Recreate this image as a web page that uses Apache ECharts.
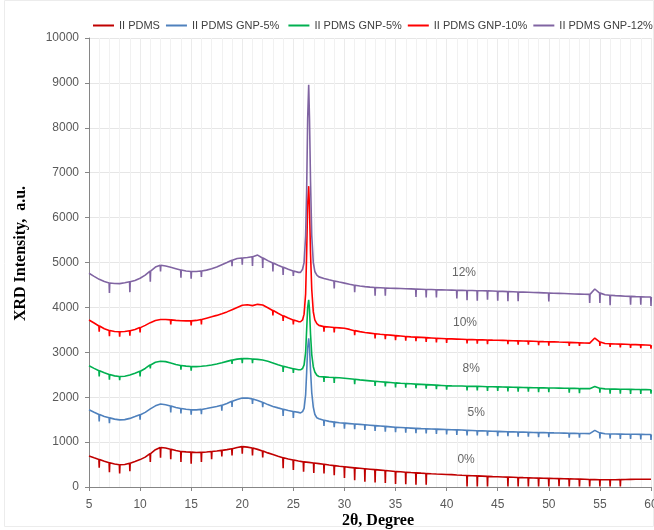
<!DOCTYPE html>
<html><head><meta charset="utf-8">
<script src="https://cdn.jsdelivr.net/npm/echarts@6/dist/echarts.min.js"></script>
<style>html,body{margin:0;padding:0;background:#fff}#c{width:654px;height:530px}</style>
</head><body><div id="c"></div>
<script>
// x grid: 5.0 .. 60.0 step 0.5 (111 values per series)
const X_START = 5, X_STEP = 0.5;
const legendNames = ['II PDMS', 'II PDMS GNP-5% ', 'II PDMS GNP-5%', 'II PDMS GNP-10%', 'II PDMS GNP-12%'];
const colors = ['#C00000', '#4F81BD', '#00B050', '#FF0000', '#8064A2'];

const base0 = [690,650,615,575,540,512,495,500,530,568, 610,665,745,830,880,868,842,812,792,782,
  776,770,772,780,790,802,815,832,852,880, 900,888,868,838,800,760,722,684,650,622,
  600,578,560,548,535,520,505,490,476,462, 450,438,426,416,405,396,386,376,366,356,
  346,338,330,322,315,308,302,296,290,285, 280,275,268,262,257,252,247,242,237,232,
  228,224,220,216,212,208,205,202,198,195, 192,189,186,183,180,178,175,172,168,165,
  162,160,160,162,165,168,170,172,172,172, 174];
const base5 = [1720,1665,1615,1572,1540,1512,1495,1500,1528,1568, 1610,1662,1740,1808,1848,1832,1802,1772,1750,1732,
  1720,1718,1728,1748,1770,1792,1822,1860,1908,1950, 1980,1982,1962,1925,1885,1835,1795,1762,1732,1702,
  1680,1662,1700,3310,1700,1520,1485,1462,1445,1432, 1422,1412,1402,1394,1385,1376,1366,1358,1350,1340,
  1330,1325,1318,1312,1306,1300,1296,1292,1288,1284, 1280,1276,1272,1268,1262,1258,1254,1250,1246,1242,
  1238,1234,1230,1228,1224,1222,1218,1215,1212,1210, 1208,1205,1202,1200,1196,1194,1192,1190,1188,1262,
  1205,1186,1182,1180,1178,1176,1175,1174,1172,1170, 1168];
const base8 = [2700,2642,2590,2545,2505,2475,2460,2468,2495,2535, 2578,2640,2718,2778,2800,2792,2762,2728,2705,2692,
  2682,2680,2688,2700,2718,2740,2768,2798,2826,2848, 2860,2862,2852,2842,2828,2800,2762,2722,2690,2660,
  2632,2612,2650,4170,2600,2462,2452,2445,2440,2432, 2422,2410,2398,2386,2375,2364,2354,2345,2336,2328,
  2318,2310,2304,2298,2292,2286,2280,2274,2268,2262, 2256,2252,2250,2248,2245,2242,2240,2237,2234,2232,
  2230,2227,2224,2222,2219,2216,2214,2212,2210,2208, 2206,2204,2202,2200,2198,2196,2194,2192,2190,2236,
  2198,2186,2182,2180,2178,2176,2174,2172,2170,2168, 2166];
const base10 = [3720,3652,3585,3525,3484,3462,3456,3462,3480,3510, 3550,3600,3660,3708,3730,3730,3722,3712,3702,3700,
  3700,3710,3730,3760,3790,3822,3860,3900,3950,4000, 4048,4060,4040,4068,4052,3992,3930,3870,3812,3762,
  3722,3684,3750,6700,3800,3600,3572,3562,3552,3545, 3535,3510,3482,3460,3442,3428,3414,3402,3392,3382,
  3372,3362,3352,3344,3338,3332,3326,3320,3314,3308, 3302,3298,3294,3290,3286,3283,3280,3277,3274,3271,
  3268,3265,3262,3258,3255,3252,3248,3245,3242,3238, 3235,3232,3228,3225,3220,3216,3212,3208,3204,3318,
  3232,3196,3190,3186,3182,3178,3174,3170,3166,3162, 3158];
const base12 = [4760,4692,4625,4575,4545,4532,4530,4548,4570,4600, 4650,4720,4810,4898,4940,4922,4892,4862,4832,4812,
  4800,4800,4810,4830,4860,4900,4950,5000,5050,5090, 5100,5110,5130,5165,5100,5042,4990,4940,4892,4850,
  4810,4780,4900,8960,4900,4680,4645,4615,4590,4565, 4540,4515,4492,4475,4462,4452,4444,4438,4432,4428,
  4424,4420,4416,4412,4408,4404,4400,4397,4394,4391, 4388,4385,4382,4380,4378,4375,4372,4370,4367,4364,
  4360,4356,4352,4348,4344,4340,4336,4332,4328,4324, 4320,4316,4312,4308,4304,4300,4296,4292,4290,4410,
  4318,4280,4270,4262,4256,4250,4245,4240,4236,4232, 4230];

// main (002) graphite peak near 26.5 deg, finer samples
const peak0 = [];
const peak5 = [[25.7,1650],[25.9,1680],[26.05,1750],[26.2,2050],[26.3,2550],[26.4,3100],[26.5,3310],[26.58,3100],[26.68,2600],[26.8,2100],[26.95,1780],[27.1,1620],[27.3,1540]];
const peak8 = [[25.7,2610],[25.9,2640],[26.05,2720],[26.2,3000],[26.3,3500],[26.4,4000],[26.5,4170],[26.58,3950],[26.68,3400],[26.8,2950],[26.95,2680],[27.1,2560],[27.3,2490]];
const peak10 = [[25.7,3680],[25.9,3720],[26.05,3850],[26.2,4300],[26.3,5200],[26.4,6300],[26.5,6700],[26.58,6200],[26.68,5200],[26.8,4400],[26.95,3900],[27.1,3720],[27.3,3640]];
const peak12 = [[25.7,4780],[25.9,4850],[26.05,5000],[26.2,5600],[26.3,6600],[26.4,8200],[26.5,8960],[26.58,8200],[26.68,6800],[26.8,5600],[26.95,5000],[27.1,4800],[27.3,4720]];

// downward spikes: [x, tip value]
const spikes0 = [[6,430],[7,330],[8,300],[9,350],[11,560],[12,650],[13,620],[14,560],[15,520],[16,560],[17,620],[18,680],[19,700],[20,740],[21,700],[22,660],[24,420],[25,380],[26,340],[27,310],[28,300],[29,260],[30,200],[31,150],[32,120],[33,100],[34,90],[35,70],[36,60],[37,50],[38,50],[42,10],[43,10],[44,10],[46,10],[47,10],[48,10],[49,10],[50,10],[51,20],[52,10],[53,10],[54,10],[55,10],[56,10],[57,10]];
const spikes5 = [[6,1460],[7,1420],[10,1500],[13,1660],[14,1640],[15,1610],[16,1620],[18,1700],[19,1780],[21,1850],[22,1780],[24,1580],[25,1540],[28,1360],[29,1330],[30,1300],[31,1290],[32,1270],[33,1250],[34,1230],[35,1220],[36,1210],[37,1200],[38,1190],[39,1180],[40,1170],[41,1160],[42,1150],[43,1150],[44,1140],[45,1130],[46,1130],[47,1120],[48,1120],[49,1110],[50,1110],[52,1100],[53,1100],[55,1080],[56,1080],[57,1070],[58,1070],[59,1060],[60,1050]];
const spikes8 = [[6,2460],[7,2390],[8,2380],[10,2460],[11,2640],[14,2610],[15,2590],[19,2740],[20,2760],[21,2760],[24,2560],[25,2540],[28,2340],[29,2320],[31,2290],[33,2250],[34,2240],[35,2220],[36,2210],[37,2200],[38,2190],[39,2180],[40,2170],[42,2150],[43,2150],[44,2140],[45,2140],[46,2130],[47,2120],[48,2120],[49,2110],[50,2110],[52,2100],[53,2090],[55,2100],[56,2080],[57,2080],[58,2070],[59,2070],[60,2080]];
const spikes10 = [[6,3460],[7,3360],[8,3350],[9,3370],[10,3440],[13,3620],[15,3600],[16,3620],[23,3820],[24,3700],[25,3620],[28,3460],[29,3440],[31,3380],[33,3310],[34,3290],[35,3270],[36,3260],[37,3250],[38,3230],[39,3220],[40,3210],[42,3200],[43,3190],[44,3180],[46,3180],[47,3170],[48,3170],[49,3160],[50,3150],[52,3140],[53,3140],[55,3140],[56,3120],[57,3110],[58,3100],[59,3090],[60,3080]];
const spikes12 = [[7,4320],[9,4340],[11,4570],[12,4800],[14,4660],[15,4640],[16,4680],[19,4920],[20,4950],[21,4920],[22,4880],[23,4800],[24,4720],[25,4700],[29,4420],[31,4340],[33,4260],[34,4260],[37,4230],[38,4220],[39,4220],[41,4200],[42,4160],[43,4150],[44,4170],[45,4150],[46,4140],[47,4140],[50,4130],[54,4100],[55,4100],[56,4050],[58,4060],[59,4060],[60,4030]];

// curve annotations
const labelText = ['0%', '5%', '8%', '10%', '12%'];
const labelX = [41.9, 42.9, 42.4, 41.8, 41.7];
const labelY = [600, 1650, 2630, 3670, 4770];

function build(base, peak, spikes) {
  const pts = [];
  const sp = new Map(spikes.map(s => [s[0], s[1]]));
  base.forEach((y, i) => {
    const x = +(X_START + i * X_STEP).toFixed(2);
    if (peak.length && x > 25.5 && x < 27.5) return;
    if (sp.has(x)) { pts.push([x - 0.03, y], [x, sp.get(x)], [x + 0.03, y]); }
    else pts.push([x, y]);
  });
  peak.forEach(p => pts.push(p));
  pts.sort((a, b) => a[0] - b[0]);
  return pts;
}

const sets = [[base0, peak0, spikes0], [base5, peak5, spikes5], [base8, peak8, spikes8], [base10, peak10, spikes10], [base12, peak12, spikes12]];

const chart = echarts.init(document.getElementById('c'), null, {renderer: 'canvas'});
const series = sets.map((s, i) => ({
  name: legendNames[i], type: 'line', data: build(s[0], s[1], s[2]),
  symbol: 'none', showSymbol: false, sampling: null,
  lineStyle: {color: colors[i], width: 1.6}, itemStyle: {color: colors[i]},
  z: 2 + i
}));
series.push({
  name: 'labels', type: 'scatter', symbolSize: 0, silent: true,
  data: labelText.map((t, i) => [labelX[i], labelY[i], t]),
  label: {show: true, position: 'inside', formatter: p => p.value[2], color: '#404040', fontSize: 12, fontFamily: 'Liberation Sans'},
  z: 10
});

chart.setOption({
  animation: false,
  backgroundColor: '#fff',
  graphic: [{type: 'rect', shape: {x: 4.5, y: 0.5, width: 649, height: 526}, style: {fill: 'none', stroke: '#ececec', lineWidth: 1}, silent: true, z: -10}],
  legend: {
    data: legendNames, left: 88, top: 15, width: 640, icon: 'rect', itemWidth: 21, itemHeight: 2, itemGap: 6,
    textStyle: {fontSize: 11, color: '#404040', fontFamily: 'Liberation Sans'}
  },
  grid: {left: 89, right: 3, top: 38, bottom: 43, containLabel: false, outerBoundsMode: 'none'},
  xAxis: {
    type: 'value', min: 5, max: 60, interval: 5,
    name: '2θ, Degree', nameLocation: 'middle', nameGap: 26, nameMoveOverlap: false,
    nameTextStyle: {fontFamily: 'Liberation Serif', fontWeight: 'bold', fontSize: 16, color: '#000', padding: [0, 0, 0, 16]},
    axisLine: {show: true, lineStyle: {color: '#868686', width: 1}},
    axisTick: {show: true, length: 4, lineStyle: {color: '#868686'}},
    axisLabel: {fontSize: 12, color: '#595959', margin: 12, fontFamily: 'Liberation Sans'},
    splitLine: {show: true, lineStyle: {color: '#ebebeb', width: 1}},
    minorTick: {show: false, splitNumber: 5},
    minorSplitLine: {show: true, lineStyle: {color: '#f1f1f1', width: 1}}
  },
  yAxis: {
    type: 'value', min: 0, max: 10000, interval: 1000,
    name: 'XRD Intensity,  a.u.', nameLocation: 'middle', nameGap: 60, nameMoveOverlap: false,
    nameTextStyle: {fontFamily: 'Liberation Serif', fontWeight: 'bold', fontSize: 16, color: '#000', padding: [0, 0, 0, 18]},
    axisLine: {show: true, lineStyle: {color: '#868686', width: 1}},
    axisTick: {show: true, length: 4, lineStyle: {color: '#868686'}},
    axisLabel: {fontSize: 12, color: '#595959', margin: 10, fontFamily: 'Liberation Sans', formatter: v => String(v)},
    splitLine: {show: true, lineStyle: {color: '#e6e6e6', width: 1}}
  },
  series: series
});
</script>
</body></html>
